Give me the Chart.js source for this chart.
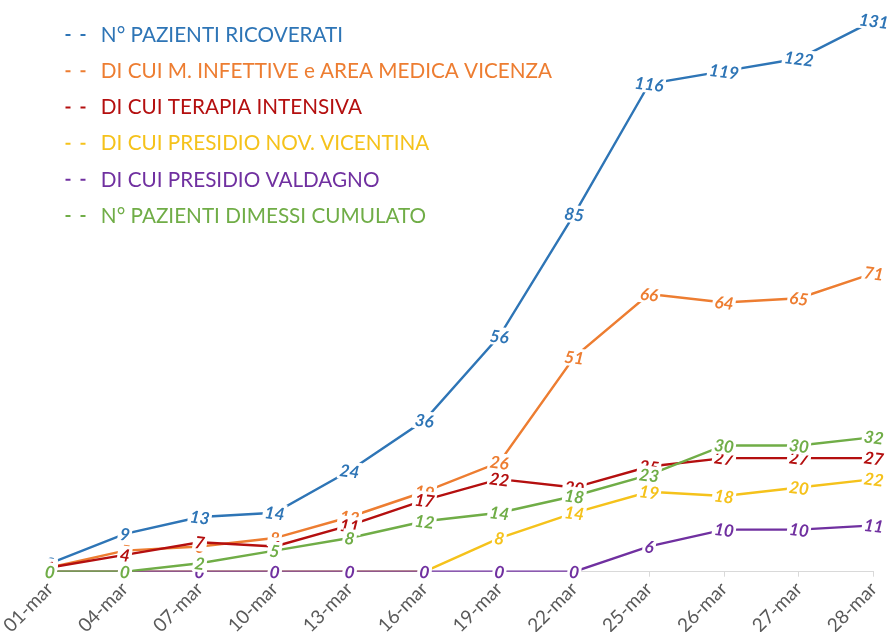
<!DOCTYPE html>
<html>
<head>
<meta charset="utf-8">
<script src="https://cdn.jsdelivr.net/npm/chart.js@4/dist/chart.umd.min.js"></script>
<style>
  html, body { margin: 0; padding: 0; background: #ffffff; }
  #wrap { width: 891px; height: 632px; position: relative; }
</style>
</head>
<body>
<div id="wrap"><canvas id="c" width="891" height="632"></canvas></div>
<script>
const categories = ['01-mar','04-mar','07-mar','10-mar','13-mar','16-mar','19-mar','22-mar','25-mar','26-mar','27-mar','28-mar'];
const seriesNames = [
  'N° PAZIENTI RICOVERATI',
  'DI CUI M. INFETTIVE e AREA MEDICA VICENZA',
  'DI CUI TERAPIA INTENSIVA',
  'DI CUI PRESIDIO NOV. VICENTINA',
  'DI CUI PRESIDIO VALDAGNO',
  'N° PAZIENTI DIMESSI CUMULATO'
];
const ricoverati   = [2, 9, 13, 14, 24, 36, 56, 85, 116, 119, 122, 131];
const infettive    = [1, 5, 6, 8, 13, 19, 26, 51, 66, 64, 65, 71];
const intensiva    = [1, 4, 7, 6, 11, 17, 22, 20, 25, 27, 27, 27];
const novVicentina = [0, 0, 0, 0, 0, 0, 8, 14, 19, 18, 20, 22];
const valdagno     = [0, 0, 0, 0, 0, 0, 0, 0, 6, 10, 10, 11];
const dimessi      = [0, 0, 2, 5, 8, 12, 14, 18, 23, 30, 30, 32];

const colors = ['#2E75B6', '#ED7D31', '#B40F0F', '#F5C21B', '#7030A0', '#70AD47'];
const seriesData = [ricoverati, infettive, intensiva, novVicentina, valdagno, dimessi];

const datasets = seriesData.map((d, i) => ({
  label: seriesNames[i],
  data: d,
  borderColor: colors[i],
  backgroundColor: colors[i],
  borderWidth: 2.4,
  pointRadius: 0,
  pointHoverRadius: 0,
  tension: 0,
  fill: false,
  order: 6 - i
}));

const valueLabels = {
  id: 'valueLabels',
  afterDatasetsDraw(chart) {
    const ctx = chart.ctx;
    ctx.save();
    ctx.font = 'italic bold 17px Lato';
    ctx.textAlign = 'center';
    ctx.textBaseline = 'middle';
    chart.data.datasets.forEach((ds, i) => {
      const meta = chart.getDatasetMeta(i);
      meta.data.forEach((pt, j) => {
        const v = ds.data[j];
        if (v === null || v === undefined) return;
        const txt = String(v);
        const w = ctx.measureText(txt).width;
        ctx.save();
        ctx.translate(pt.x, pt.y);
        ctx.rotate(7 * Math.PI / 180);
        ctx.fillStyle = '#ffffff';
        ctx.fillRect(-w / 2 - 2, -9, w + 4, 18);
        ctx.fillStyle = ds.borderColor;
        ctx.fillText(txt, 0, 1);
        ctx.restore();
      });
    });
    ctx.restore();
  }
};

new Chart(document.getElementById('c'), {
  type: 'line',
  data: { labels: categories, datasets: datasets },
  plugins: [valueLabels],
  options: {
    responsive: false,
    animation: false,
    layout: { padding: { left: 50, right: 16, top: 8, bottom: -6 } },
    plugins: {
      tooltip: { enabled: false },
      legend: {
        position: 'chartArea',
        align: 'start',
        title: { display: true, text: '', font: { size: 1 }, padding: { top: 0, bottom: 8 } },
        labels: {
          usePointStyle: true,
          pointStyle: 'line',
          pointStyleWidth: 25,
          padding: 15.5,
          font: { family: 'Lato', size: 20.7 },
          generateLabels(chart) {
            return chart.data.datasets.map((ds, i) => ({
              text: ds.label,
              fillStyle: ds.borderColor,
              strokeStyle: ds.borderColor,
              fontColor: ds.borderColor,
              lineWidth: 2,
              lineDash: [5, 10, 5, 100],
              pointStyle: 'line',
              hidden: false,
              datasetIndex: i
            }));
          }
        }
      }
    },
    scales: {
      x: {
        offset: false,
        grid: { drawOnChartArea: false, drawTicks: true, tickLength: 5, color: '#D9D9D9' },
        border: { color: '#D9D9D9', width: 1 },
        ticks: {
          color: '#595959',
          font: { family: 'Lato', size: 19 },
          minRotation: 45,
          maxRotation: 45,
          autoSkip: false,
          padding: 1
        }
      },
      y: {
        display: false,
        min: 0,
        max: 134
      }
    }
  }
});
</script>
</body>
</html>
